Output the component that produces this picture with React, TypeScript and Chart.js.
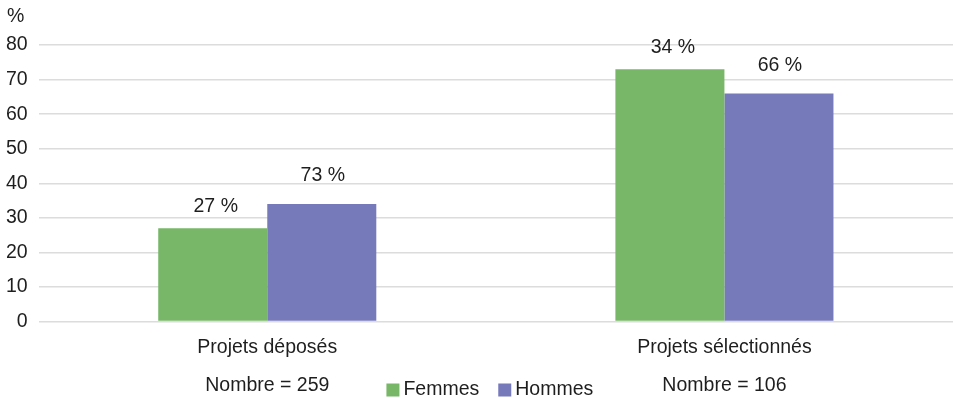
import React, { useEffect, useRef } from 'react';
import { Chart, registerables } from 'chart.js';

Chart.register(...registerables);

// Categories and series
const categories = ['Projets déposés', 'Projets sélectionnés'];
const seriesNames = ['Femmes', 'Hommes'];
const femmesValues = [27, 73];
const hommesValues = [34, 66];

// Share labels printed above the bars
const femmesLabels = ['27 %', '34 %'];
const hommesLabels = ['73 %', '66 %'];

// Totals printed under each category
const totals = ['Nombre = 259', 'Nombre = 106'];

// Value axis
const yMin = 0;
const yMax = 80;
const yStep = 10;
const unitLabel = '%';

const FONT = '"Liberation Sans", Arial, Helvetica, sans-serif';
const FONT_SIZE = 19.5;
const TEXT_COLOR = '#1e1e1e';
const GREEN = '#78b768';
const PURPLE = '#767abb';

const annotations = {
  id: 'annotations',
  afterDraw(chart: any) {
    const { ctx, chartArea, scales } = chart;
    const xScale = scales.x;
    ctx.save();
    ctx.font = `${FONT_SIZE}px ${FONT}`;
    ctx.fillStyle = TEXT_COLOR;

    // unit above the value axis
    ctx.textAlign = 'left';
    ctx.textBaseline = 'middle';
    ctx.fillText(unitLabel, 7, 17);

    // share labels above the bars
    const labelSets = [femmesLabels, hommesLabels];
    const lift = [22, 28];
    const nudge = [3, 1];
    ctx.textAlign = 'center';
    labelSets.forEach((labels, di) => {
      const meta = chart.getDatasetMeta(di);
      meta.data.forEach((bar: any, i: number) => {
        ctx.fillText(labels[i], bar.x + nudge[di], bar.y - lift[di]);
      });
    });

    // totals under each category
    totals.forEach((t, i) => {
      ctx.fillText(t, xScale.getPixelForValue(i), 386);
    });

    // legend
    const box = 13;
    const boxGap = 4;
    const itemGap = 19;
    const colors = [GREEN, PURPLE];
    const widths = seriesNames.map((n) => ctx.measureText(n).width);
    const total = widths.reduce((a, w) => a + box + boxGap + w, 0) + itemGap * (seriesNames.length - 1);
    let x = (chartArea.left + chartArea.right) / 2 - total / 2 - 6;
    const yMid = 390;
    ctx.textAlign = 'left';
    seriesNames.forEach((name, i) => {
      ctx.fillStyle = colors[i];
      ctx.fillRect(x, yMid - box / 2, box, box);
      x += box + boxGap;
      ctx.fillStyle = TEXT_COLOR;
      ctx.fillText(name, x, yMid);
      x += widths[i] + itemGap;
    });
    ctx.restore();
  },
};

export default function App() {
  const canvasRef = useRef<HTMLCanvasElement | null>(null);

  useEffect(() => {
    if (!canvasRef.current) return;
    const chart = new Chart(canvasRef.current, {
      type: 'bar',
      data: {
        labels: categories,
        datasets: [
          {
            label: seriesNames[0],
            data: femmesValues,
            backgroundColor: GREEN,
            borderWidth: 0,
            categoryPercentage: 0.477,
            barPercentage: 1,
          },
          {
            label: seriesNames[1],
            data: hommesValues,
            backgroundColor: PURPLE,
            borderWidth: 0,
            categoryPercentage: 0.477,
            barPercentage: 1,
          },
        ],
      },
      options: {
        responsive: false,
        animation: false,
        devicePixelRatio: 1,
        layout: { padding: { left: -5, right: 0, top: 45, bottom: 25 } },
        plugins: {
          legend: { display: false },
          tooltip: { enabled: false },
        },
        scales: {
          x: {
            grid: { display: false, drawTicks: false },
            border: { display: false },
            ticks: {
              padding: 14,
              color: TEXT_COLOR,
              font: { family: FONT, size: FONT_SIZE },
            },
          },
          y: {
            min: yMin,
            max: yMax,
            grid: { color: '#dcdcdc', lineWidth: 1.5, drawTicks: false },
            border: { display: false },
            ticks: {
              stepSize: yStep,
              padding: 11,
              color: TEXT_COLOR,
              font: { family: FONT, size: FONT_SIZE },
            },
          },
        },
      },
      plugins: [annotations],
    });
    return () => chart.destroy();
  }, []);

  return (
    <div style={{ position: 'fixed', left: 0, top: 0, width: 953, height: 398, background: '#ffffff' }}>
      <canvas ref={canvasRef} width={953} height={398} />
    </div>
  );
}
